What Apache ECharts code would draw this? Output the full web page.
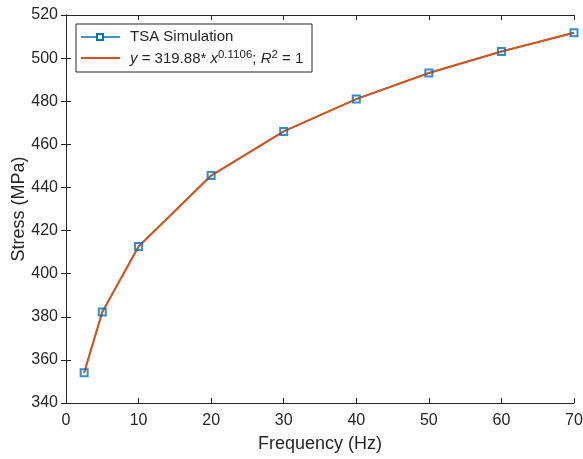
<!DOCTYPE html>
<html>
<head>
<meta charset="utf-8">
<script src="https://cdn.jsdelivr.net/npm/echarts@6/dist/echarts.min.js"></script>
<style>
  html, body { margin: 0; padding: 0; background: #fff; }
  #chart { width: 583px; height: 459px; }
</style>
</head>
<body>
<div id="chart"></div>
<script>
// Frequency (Hz) of each simulation run
const frequency = [2.5, 5, 10, 20, 30, 40, 50, 60, 70];
// Stress from the TSA simulation (MPa)
const tsaStress = [354.0, 382.2, 412.6, 445.5, 466.0, 481.0, 493.1, 503.1, 511.8];
// Power-law fit evaluated at the same frequencies
const fitStress = [354.0, 382.2, 412.6, 445.5, 466.0, 481.0, 493.1, 503.1, 511.8];
const xTicks = [0, 10, 20, 30, 40, 50, 60, 70];
const yTicks = [340, 360, 380, 400, 420, 440, 460, 480, 500, 520];

const blue = '#0072BD';
const orange = '#D95319';
const axisColor = '#262626';
const font = 'Liberation Sans, Arial, Helvetica, sans-serif';

const chart = echarts.init(document.getElementById('chart'), null, { renderer: 'canvas' });

const axisCommon = {
  type: 'value',
  axisLine: { show: true, lineStyle: { color: axisColor, width: 1 } },
  axisTick: { show: true, inside: true, length: 5, lineStyle: { color: axisColor } },
  splitLine: { show: false },
};

chart.setOption({
  animation: false,
  grid: { left: 66, right: 9, top: 15, bottom: 56, containLabel: false, outerBoundsMode: 'none' },
  xAxis: [
    Object.assign({}, axisCommon, {
      min: xTicks[0], max: xTicks[xTicks.length - 1], interval: 10,
      position: 'bottom',
      axisLabel: { color: axisColor, fontSize: 16, fontFamily: font, margin: 10 },
      name: 'Frequency (Hz)', nameLocation: 'middle', nameGap: 32, nameMoveOverlap: false,
      nameTextStyle: { color: axisColor, fontSize: 18, fontFamily: font }
    }),
    Object.assign({}, axisCommon, {
      min: xTicks[0], max: xTicks[xTicks.length - 1], interval: 10,
      position: 'top', axisLabel: { show: false }
    })
  ],
  yAxis: [
    Object.assign({}, axisCommon, {
      min: yTicks[0], max: yTicks[yTicks.length - 1], interval: 20,
      position: 'left',
      axisLabel: { color: axisColor, fontSize: 16, fontFamily: font, margin: 8 },
      name: 'Stress (MPa)', nameLocation: 'middle', nameGap: 38, nameMoveOverlap: false,
      nameTextStyle: { color: axisColor, fontSize: 18, fontFamily: font }
    }),
    Object.assign({}, axisCommon, {
      min: yTicks[0], max: yTicks[yTicks.length - 1], interval: 20,
      position: 'right', axisLabel: { show: false }
    })
  ],
  series: [
    {
      name: 'TSA Simulation', type: 'line',
      data: frequency.map((f, i) => [f, tsaStress[i]]),
      lineStyle: { color: blue, width: 1.5 },
      symbol: 'none',
      z: 2
    },
    {
      name: 'fit', type: 'line',
      data: frequency.map((f, i) => [f, fitStress[i]]),
      lineStyle: { color: orange, width: 2 },
      symbol: 'none',
      z: 3
    },
    {
      name: 'markers', type: 'scatter',
      data: frequency.map((f, i) => [f, tsaStress[i]]),
      symbol: 'rect', symbolSize: 7,
      itemStyle: { color: 'rgba(0,0,0,0)', borderColor: blue, borderWidth: 2 },
      z: 4
    }
  ],
  graphic: [
    { type: 'rect', shape: { x: 76, y: 24, width: 236, height: 48 },
      style: { fill: '#fff', stroke: axisColor, lineWidth: 1 }, z: 10 },
    { type: 'line', shape: { x1: 81, y1: 37, x2: 120, y2: 37 },
      style: { stroke: blue, lineWidth: 1.5 }, z: 11 },
    { type: 'rect', shape: { x: 97, y: 34, width: 6, height: 6 },
      style: { fill: '#fff', stroke: blue, lineWidth: 2 }, z: 12 },
    { type: 'text', x: 130, y: 37, z: 11,
      style: { text: 'TSA Simulation', fill: axisColor, font: '15px ' + font, verticalAlign: 'middle' } },
    { type: 'line', shape: { x1: 81, y1: 58, x2: 120, y2: 58 },
      style: { stroke: orange, lineWidth: 2 }, z: 11 },
    { type: 'text', x: 130, y: 59, z: 11,
      style: {
        text: '{i|y} = 319.88* {i|x}{s|0.1106}; {i|R}{s|2} = 1',
        verticalAlign: 'middle',
        rich: {
          i: { fontStyle: 'italic', fontSize: 15, fontFamily: font, fill: axisColor },
          s: { fontSize: 11.5, fontFamily: font, fill: axisColor, verticalAlign: 'top', padding: [0, 0, 9, 0] }
        },
        font: '15px ' + font, fill: axisColor
      } }
  ]
});
</script>
</body>
</html>
